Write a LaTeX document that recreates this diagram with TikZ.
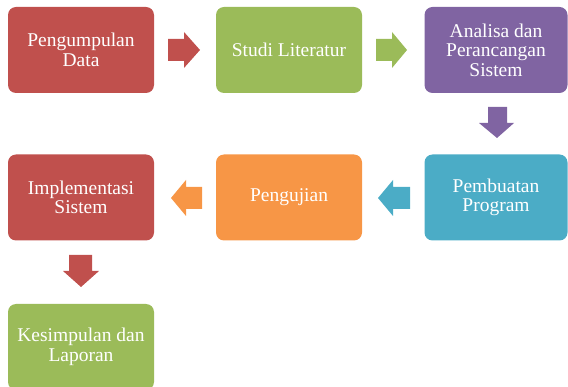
\documentclass[tikz,border=0pt]{standalone}
\usepackage{fontspec}
\setmainfont{Liberation Serif}
\definecolor{cred}{HTML}{C0504D}
\definecolor{cgreen}{HTML}{9BBB59}
\definecolor{cpurple}{HTML}{8064A2}
\definecolor{cteal}{HTML}{4BACC6}
\definecolor{corange}{HTML}{F79646}
\begin{document}
\begin{tikzpicture}[x=1pt,y=-1pt,
  stepbox/.style={rounded corners=8pt, minimum width=146pt, minimum height=86pt,
    inner sep=0pt, text=white, align=center,
    font=\fontsize{19.5}{19.5}\selectfont}]
\useasboundingbox (0,0) rectangle (568,387);
\node[stepbox, fill=cred]    (b1) at (81,50)    {Pengumpulan\\Data};
\node[stepbox, fill=cgreen]  (b2) at (289,50)   {Studi Literatur};
\node[stepbox, fill=cpurple, minimum width=143pt] (b3) at (496,50) {Analisa dan\\Perancangan\\Sistem};
\node[stepbox, fill=cteal, minimum width=143pt]   (b6) at (496,197.5) {Pembuatan\\Program};
\node[stepbox, fill=corange] (b5) at (289,197.5) {Pengujian};
\node[stepbox, fill=cred]    (b4) at (81,197.5) {Implementasi\\Sistem};
\node[stepbox, fill=cgreen]  (b7) at (81,347)  {Kesimpulan dan\\Laporan};
% right arrows
\fill[cred] (168,39) -- (184,39) -- (184,32) -- (200,50) -- (184,68) -- (184,61) -- (168,61) -- cycle;
\fill[cgreen] (376,39) -- (392,39) -- (392,32) -- (407,50) -- (392,68) -- (392,61) -- (376,61) -- cycle;
% down arrow purple
\fill[cpurple] (488,107) -- (507,107) -- (507,123) -- (514,123) -- (497,138) -- (479,123) -- (488,123) -- cycle;
% left arrows
\fill[cteal] (410,187) -- (393,187) -- (393,180) -- (378,198) -- (393,216) -- (393,209) -- (410,209) -- cycle;
\fill[corange] (202,187) -- (186,187) -- (186,180) -- (171,198) -- (186,216) -- (186,209) -- (202,209) -- cycle;
% down arrow red
\fill[cred] (69,255) -- (92,255) -- (92,271) -- (99,271) -- (81,287) -- (63,271) -- (69,271) -- cycle;
\end{tikzpicture}
\end{document}
